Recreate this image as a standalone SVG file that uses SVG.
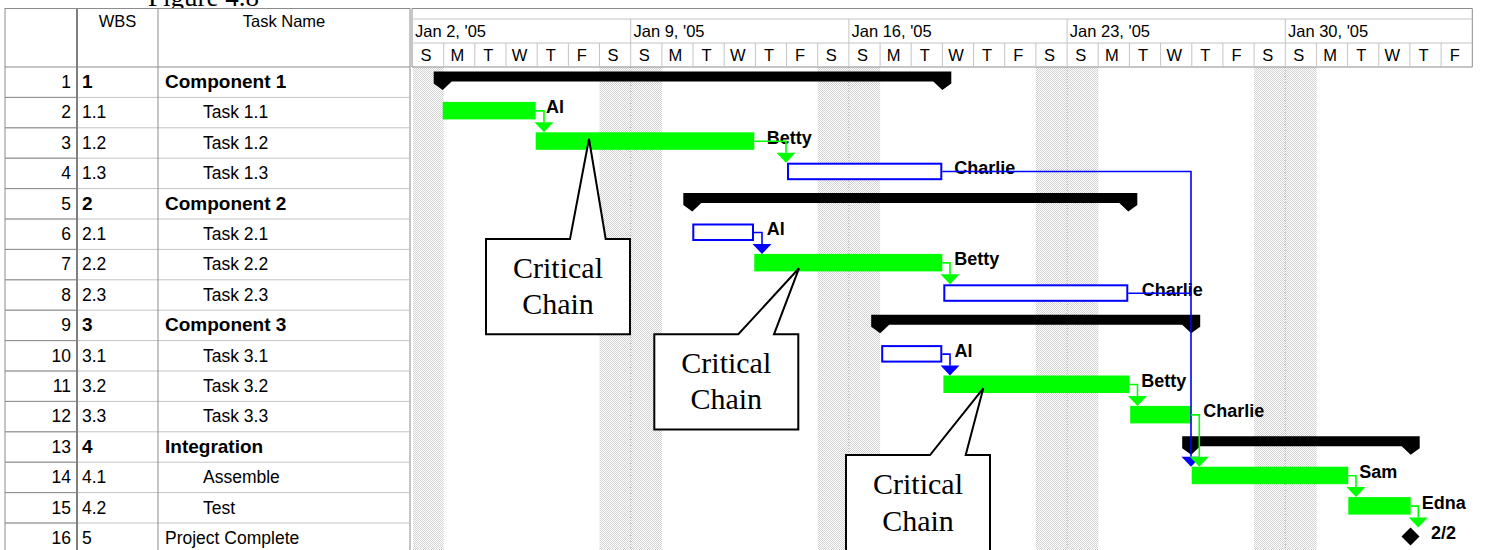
<svg xmlns="http://www.w3.org/2000/svg" width="1488" height="550" viewBox="0 0 1488 550">
<defs>
<pattern id="stip" width="2" height="2" patternUnits="userSpaceOnUse">
<rect width="2" height="2" fill="#ffffff"/>
<rect width="1" height="1" fill="#d2d2d2"/>
<rect x="1" y="1" width="1" height="1" fill="#d2d2d2"/>
</pattern>
</defs>
<style>
.t{font-family:"Liberation Sans",Arial,sans-serif;font-size:17.5px;fill:#000}
.b{font-weight:bold;font-size:19px}
.n{text-anchor:end}
.h{font-family:"Liberation Sans",Arial,sans-serif;font-size:16.5px;fill:#000}
.gl{stroke:#c4c4c4;stroke-width:1;fill:none}
.dl{stroke:#8c8c8c;stroke-width:1;fill:none}
.wk{stroke:#b0b0b0;stroke-width:1;stroke-dasharray:1 2;fill:none}
.crit{fill:#00ff00}
.nc{fill:#fff;stroke:#0000ff;stroke-width:2}
.sum{fill:#000}
.lab{font-family:"Liberation Sans",Arial,sans-serif;font-size:18px;font-weight:bold;fill:#000}
.cg{stroke:#00ff00;stroke-width:1.6;fill:none}
.cb{stroke:#0000ff;stroke-width:1.6;fill:none}
.ag{fill:#00ff00}
.ab{fill:#0000ff}
.co{fill:#fff;stroke:#000;stroke-width:2}
.ct{font-family:"Liberation Serif","Times New Roman",serif;font-size:30px;text-anchor:middle;fill:#000}
.dy{text-anchor:middle}
</style>
<rect width="1488" height="550" fill="#fff"/>

<!-- title (cut off at top, as in the picture) -->
<text x="148" y="6" font-family="Liberation Serif, Times New Roman, serif" font-size="27">Figure 4.8</text>

<!-- weekend shading -->
<g id="weekends">
<rect x="413" y="67" width="30.7" height="483" fill="url(#stip)"/>
<rect x="599.5" y="67" width="62.4" height="483" fill="url(#stip)"/>
<rect x="817.7" y="67" width="62.4" height="483" fill="url(#stip)"/>
<rect x="1035.9" y="67" width="62.4" height="483" fill="url(#stip)"/>
<rect x="1254.1" y="67" width="62.4" height="483" fill="url(#stip)"/>
<path class="wk" d="M630.7 67V550M848.9 67V550M1067.1 67V550M1285.3 67V550"/>
</g>

<!-- timeline header -->
<g id="timescale">
<rect x="412" y="8.5" width="1060.3" height="58.5" fill="#fff"/>
<path class="dl" d="M412 8.5H1472.3M412 67H1472.3M412 8.5V67M1472.3 8.5V67"/>
<path class="gl" d="M412 19H1472.3M412 43H1472.3"/>
<path class="gl" d="M630.7 19V67M848.9 19V67M1067.1 19V67M1285.3 19V67"/>
<path class="gl" d="M443.7 43V67M474.8 43V67M506 43V67M537.2 43V67M568.4 43V67M599.5 43V67M661.9 43V67M693 43V67M724.2 43V67M755.4 43V67M786.5 43V67M817.7 43V67M880.1 43V67M911.2 43V67M942.4 43V67M973.6 43V67M1004.7 43V67M1035.9 43V67M1098.2 43V67M1129.4 43V67M1160.6 43V67M1191.8 43V67M1222.9 43V67M1254.1 43V67M1316.4 43V67M1347.6 43V67M1378.8 43V67M1409.9 43V67M1441.1 43V67"/>
<text class="h" x="415" y="37">Jan 2, '05</text>
<text class="h" x="633.5" y="37">Jan 9, '05</text>
<text class="h" x="851.5" y="37">Jan 16, '05</text>
<text class="h" x="1069.8" y="37">Jan 23, '05</text>
<text class="h" x="1288" y="37">Jan 30, '05</text>
<g class="h dy" transform="translate(-2,0)">
<text x="428.1" y="61">S</text><text x="459.3" y="61">M</text><text x="490.4" y="61">T</text><text x="521.6" y="61">W</text><text x="552.8" y="61">T</text><text x="583.9" y="61">F</text><text x="615.1" y="61">S</text>
<text x="646.3" y="61">S</text><text x="677.4" y="61">M</text><text x="708.6" y="61">T</text><text x="739.8" y="61">W</text><text x="771" y="61">T</text><text x="802.1" y="61">F</text><text x="833.3" y="61">S</text>
<text x="864.5" y="61">S</text><text x="895.6" y="61">M</text><text x="926.8" y="61">T</text><text x="958" y="61">W</text><text x="989.1" y="61">T</text><text x="1020.3" y="61">F</text><text x="1051.5" y="61">S</text>
<text x="1082.7" y="61">S</text><text x="1113.8" y="61">M</text><text x="1145" y="61">T</text><text x="1176.2" y="61">W</text><text x="1207.3" y="61">T</text><text x="1238.5" y="61">F</text><text x="1269.7" y="61">S</text>
<text x="1300.8" y="61">S</text><text x="1332" y="61">M</text><text x="1363.2" y="61">T</text><text x="1394.4" y="61">W</text><text x="1425.5" y="61">T</text><text x="1456.7" y="61">F</text>
</g>
</g>

<!-- table -->
<g id="table">
<rect x="5" y="8.5" width="405" height="545" fill="#fff" stroke="#8c8c8c" stroke-width="1"/>
<path class="gl" d="M5 97.4H410M5 127.8H410M5 158.2H410M5 188.6H410M5 219H410M5 249.4H410M5 279.8H410M5 310.2H410M5 340.6H410M5 371H410M5 401.4H410M5 431.8H410M5 462.2H410M5 492.6H410M5 523H410"/>
<path class="dl" d="M5 97.4H77M5 127.8H77M5 158.2H77M5 188.6H77M5 219H77M5 249.4H77M5 279.8H77M5 310.2H77M5 340.6H77M5 371H77M5 401.4H77M5 431.8H77M5 462.2H77M5 492.6H77M5 523H77"/>
<path class="dl" d="M5 67H410M158 8.5V550"/>
<path d="M77 8.5V550" stroke="#808080" stroke-width="2"/>
<text class="h" x="117.5" y="27" text-anchor="middle">WBS</text>
<text class="h" x="284" y="27" text-anchor="middle">Task Name</text>
<g class="t">
<text class="n" x="71" y="88">1</text><text class="b" x="82" y="88">1</text><text class="b" x="165" y="88">Component 1</text>
<text class="n" x="71" y="118.4">2</text><text x="82" y="118.4">1.1</text><text x="203" y="118.4">Task 1.1</text>
<text class="n" x="71" y="148.8">3</text><text x="82" y="148.8">1.2</text><text x="203" y="148.8">Task 1.2</text>
<text class="n" x="71" y="179.2">4</text><text x="82" y="179.2">1.3</text><text x="203" y="179.2">Task 1.3</text>
<text class="n" x="71" y="209.6">5</text><text class="b" x="82" y="209.6">2</text><text class="b" x="165" y="209.6">Component 2</text>
<text class="n" x="71" y="240">6</text><text x="82" y="240">2.1</text><text x="203" y="240">Task 2.1</text>
<text class="n" x="71" y="270.4">7</text><text x="82" y="270.4">2.2</text><text x="203" y="270.4">Task 2.2</text>
<text class="n" x="71" y="300.8">8</text><text x="82" y="300.8">2.3</text><text x="203" y="300.8">Task 2.3</text>
<text class="n" x="71" y="331.2">9</text><text class="b" x="82" y="331.2">3</text><text class="b" x="165" y="331.2">Component 3</text>
<text class="n" x="71" y="361.6">10</text><text x="82" y="361.6">3.1</text><text x="203" y="361.6">Task 3.1</text>
<text class="n" x="71" y="392">11</text><text x="82" y="392">3.2</text><text x="203" y="392">Task 3.2</text>
<text class="n" x="71" y="422.4">12</text><text x="82" y="422.4">3.3</text><text x="203" y="422.4">Task 3.3</text>
<text class="n" x="71" y="452.8">13</text><text class="b" x="82" y="452.8">4</text><text class="b" x="165" y="452.8">Integration</text>
<text class="n" x="71" y="483.2">14</text><text x="82" y="483.2">4.1</text><text x="203" y="483.2">Assemble</text>
<text class="n" x="71" y="513.6">15</text><text x="82" y="513.6">4.2</text><text x="203" y="513.6">Test</text>
<text class="n" x="71" y="544">16</text><text x="82" y="544">5</text><text x="165" y="544">Project Complete</text>
</g>
</g>

<!-- summary bars -->
<g id="component1"><path class="sum" d="M433.7 71.5H951.3V83.5L942.3 90L933.3 81.5H451.7L442.7 90L433.7 83.5Z"/></g>
<g id="component2"><path class="sum" d="M683.3 193.1H1137.3V205.1L1128.3 211.6L1119.3 203.1H701.3L692.3 211.6L683.3 205.1Z"/></g>
<g id="component3"><path class="sum" d="M871.2 314.7H1200.2V326.7L1191.2 333.2L1182.2 324.7H889.2L880.2 333.2L871.2 326.7Z"/></g>
<g id="integration"><path class="sum" d="M1182.2 436.3H1419.7V448.3L1410.7 454.8L1401.7 446.3H1200.2L1191.2 454.8L1182.2 448.3Z"/></g>

<!-- task bars and labels -->
<g id="task11"><rect class="crit" x="442.7" y="101.9" width="93" height="17.5"/><text class="lab" x="546" y="113.4">Al</text></g>
<g id="task12"><rect class="crit" x="535.7" y="132.3" width="218.6" height="17.5"/><text class="lab" x="766.7" y="143.8">Betty</text></g>
<g id="task13"><rect class="nc" x="788" y="163.7" width="153.3" height="15.5"/><text class="lab" x="954.3" y="174.2">Charlie</text></g>
<g id="task21"><rect class="nc" x="693.3" y="224.5" width="59.7" height="15.5"/><text class="lab" x="766.7" y="235">Al</text></g>
<g id="task22"><rect class="crit" x="754.3" y="253.9" width="188" height="17.5"/><text class="lab" x="954.3" y="265.4">Betty</text></g>
<g id="task23"><rect class="nc" x="944.3" y="285.3" width="183" height="15.5"/><text class="lab" x="1141.7" y="295.8">Charlie</text></g>
<g id="task31"><rect class="nc" x="882.2" y="346.1" width="59.1" height="15.5"/><text class="lab" x="954.5" y="356.6">Al</text></g>
<g id="task32"><rect class="crit" x="943.4" y="375.5" width="186.1" height="17.5"/><text class="lab" x="1141.3" y="387">Betty</text></g>
<g id="task33"><rect class="crit" x="1130.2" y="405.9" width="61" height="17.5"/><text class="lab" x="1203.3" y="417.4">Charlie</text></g>
<g id="assemble"><rect class="crit" x="1191.7" y="466.7" width="156.6" height="17.5"/><text class="lab" x="1359.3" y="478.2">Sam</text></g>
<g id="test"><rect class="crit" x="1348.3" y="497.1" width="62.4" height="17.5"/><text class="lab" x="1421.7" y="508.6">Edna</text></g>
<g id="complete"><path d="M1410.5 527.5L1419.5 536.5L1410.5 545.5L1401.5 536.5Z" fill="#000"/><text class="lab" x="1431" y="539" font-size="16">2/2</text></g>

<!-- connectors -->
<g id="connectors">
<path class="cb" d="M942.3 171.5H1191V456.7"/>
<polygon class="ab" points="1181.5,456.7 1200.5,456.7 1191,466.7"/>
<path class="cb" d="M1128.3 293.3H1191"/>
<path class="cb" d="M754 232.5H762V243.9"/>
<polygon class="ab" points="752.5,243.9 771.5,243.9 762,253.9"/>
<path class="cb" d="M942.3 354.1H950V365.5"/>
<polygon class="ab" points="940.5,365.5 959.5,365.5 950,375.5"/>
<path class="cg" d="M535.7 110.9H544V122.3"/>
<polygon class="ag" points="534.5,122.3 553.5,122.3 544,132.3"/>
<path class="cg" d="M754.3 141.3H786V152.7"/>
<polygon class="ag" points="776.5,152.7 795.5,152.7 786,162.7"/>
<path class="cg" d="M942.3 262.9H950V274.3"/>
<polygon class="ag" points="940.5,274.3 959.5,274.3 950,284.3"/>
<path class="cg" d="M1129.5 384.5H1137.5V395.9"/>
<polygon class="ag" points="1128,395.9 1147,395.9 1137.5,405.9"/>
<path class="cg" d="M1191.2 414.9H1199.3V456.7"/>
<polygon class="ag" points="1189.8,456.7 1208.8,456.7 1199.3,466.7"/>
<path class="cg" d="M1348.3 475.7H1356V487.1"/>
<polygon class="ag" points="1346.5,487.1 1365.5,487.1 1356,497.1"/>
<path class="cg" d="M1410.7 506.1H1418.3V517.5"/>
<polygon class="ag" points="1408.8,517.5 1427.8,517.5 1418.3,527.5"/>
</g>

<!-- callouts -->
<g id="callout1">
<path class="co" d="M486 239H570L589 139L605.7 239H630V334.3H486Z"/>
<text class="ct" x="558" y="278.3">Critical</text>
<text class="ct" x="558" y="314.3">Chain</text>
</g>
<g id="callout2">
<path class="co" d="M654.3 334.3H738.3L799 268.3L774 334.3H798.3V429.5H654.3Z"/>
<text class="ct" x="726.3" y="373.3">Critical</text>
<text class="ct" x="726.3" y="409.3">Chain</text>
</g>
<g id="callout3">
<path class="co" d="M846 455H930L983.3 388.3L965.7 455H990V560H846Z"/>
<text class="ct" x="918" y="494.3">Critical</text>
<text class="ct" x="918" y="530.5">Chain</text>
</g>
</svg>
